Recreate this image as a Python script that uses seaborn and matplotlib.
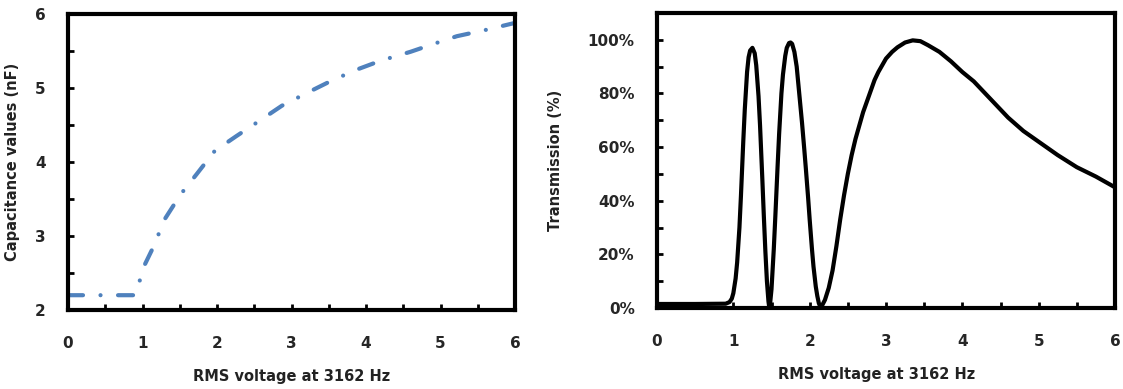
import numpy as np
import pandas as pd
import matplotlib
matplotlib.use("Agg")
import matplotlib.pyplot as plt
from matplotlib.ticker import MultipleLocator, PercentFormatter
import seaborn as sns

# ---- data ----
cap_voltage = [0.0, 0.3, 0.6, 0.9, 0.935, 1.0, 1.14, 1.30, 1.51, 1.73, 1.97, 2.26, 2.59,
               2.87, 3.24, 3.54, 3.88, 4.20, 4.60, 4.92, 5.22, 5.63, 6.0]
cap_values = [2.2, 2.2, 2.2, 2.2, 2.28, 2.55, 2.84, 3.23, 3.56, 3.84, 4.15, 4.35, 4.57,
              4.76, 4.95, 5.10, 5.25, 5.37, 5.49, 5.60, 5.70, 5.79, 5.88]

tr_voltage = [0.0, 0.5, 0.9, 0.95, 0.98, 1.0, 1.03, 1.05, 1.08, 1.1, 1.13, 1.15, 1.18,
              1.2, 1.22, 1.25, 1.28, 1.3, 1.33, 1.35, 1.38, 1.4, 1.42, 1.44, 1.46, 1.47,
              1.48, 1.5, 1.53, 1.55, 1.58, 1.6, 1.63, 1.65, 1.68, 1.7, 1.73, 1.75, 1.77,
              1.8, 1.83, 1.85, 1.88, 1.9, 1.93, 1.95, 1.98, 2.0, 2.03, 2.05, 2.08, 2.1,
              2.12, 2.14, 2.16, 2.2, 2.25, 2.3, 2.35, 2.4, 2.45, 2.5, 2.55, 2.6, 2.65,
              2.7, 2.75, 2.8, 2.85, 2.9, 2.95, 3.0, 3.08, 3.15, 3.25, 3.35, 3.45, 3.55,
              3.7, 3.85, 4.0, 4.15, 4.3, 4.45, 4.6, 4.8, 5.0, 5.25, 5.5, 5.75, 6.0]
tr_values = [0.015, 0.015, 0.016, 0.022, 0.035, 0.055, 0.11, 0.17, 0.30, 0.42, 0.62,
             0.74, 0.88, 0.935, 0.96, 0.97, 0.95, 0.905, 0.79, 0.68, 0.48, 0.34, 0.21,
             0.10, 0.025, 0.004, 0.012, 0.07, 0.22, 0.34, 0.53, 0.65, 0.80, 0.87, 0.94,
             0.97, 0.988, 0.99, 0.985, 0.955, 0.90, 0.84, 0.75, 0.69, 0.59, 0.52, 0.41,
             0.33, 0.22, 0.155, 0.08, 0.045, 0.018, 0.004, 0.008, 0.03, 0.075, 0.14,
             0.23, 0.33, 0.42, 0.50, 0.57, 0.63, 0.68, 0.73, 0.77, 0.81, 0.85, 0.88,
             0.905, 0.93, 0.955, 0.972, 0.99, 0.998, 0.995, 0.98, 0.955, 0.92, 0.88,
             0.845, 0.80, 0.755, 0.71, 0.66, 0.62, 0.57, 0.525, 0.49, 0.45]

x_label = "RMS voltage at 3162 Hz"
left_ylabel = "Capacitance values (nF)"
right_ylabel = "Transmission (%)"

sns.set_style("white")
plt.rcParams["font.family"] = ["DejaVu Sans"]
plt.rcParams["font.weight"] = "bold"

fig = plt.figure(figsize=(11.23, 3.89), dpi=100)
ax1 = fig.add_axes([68 / 1123, 79 / 389, 447 / 1123, 296 / 389])
ax2 = fig.add_axes([657 / 1123, 81 / 389, 458 / 1123, 295 / 389])

df_cap = pd.DataFrame({"v": cap_voltage, "c": cap_values})
df_tr = pd.DataFrame({"v": tr_voltage, "t": tr_values})

sns.lineplot(data=df_cap, x="v", y="c", ax=ax1, color="#4F81BD", lw=3,
             estimator=None, sort=False)
ax1.lines[0].set_linestyle((0, (3.6, 4.2, 0.01, 4.2)))
ax1.lines[0].set_dash_capstyle("round")

sns.lineplot(data=df_tr, x="v", y="t", ax=ax2, color="black", lw=3,
             estimator=None, sort=False)
ax2.lines[0].set_solid_joinstyle("round")

ax1.set_xlim(0, 6)
ax1.set_ylim(2, 6)
ax1.xaxis.set_major_locator(MultipleLocator(1))
ax1.xaxis.set_minor_locator(MultipleLocator(0.5))
ax1.yaxis.set_major_locator(MultipleLocator(1))
ax1.yaxis.set_minor_locator(MultipleLocator(0.5))

ax2.set_xlim(0, 6)
ax2.set_ylim(0, 1.1)
ax2.xaxis.set_major_locator(MultipleLocator(1))
ax2.xaxis.set_minor_locator(MultipleLocator(0.5))
ax2.yaxis.set_major_locator(MultipleLocator(0.2))
ax2.yaxis.set_minor_locator(MultipleLocator(0.1))
ax2.yaxis.set_major_formatter(PercentFormatter(1.0, decimals=0))

for ax in (ax1, ax2):
    for s in ax.spines.values():
        s.set_visible(True)
        s.set_linewidth(3)
        s.set_color("black")
    ax.tick_params(which="both", direction="in", length=4, width=2, color="black",
                   top=False, right=False, bottom=True, left=True)
    ax.tick_params(axis="x", which="major", pad=19, labelsize=11)
    ax.tick_params(axis="y", which="major", pad=16, labelsize=11)
    for lab in ax.get_xticklabels() + ax.get_yticklabels():
        lab.set_fontweight("bold")
    ax.set_xlabel(x_label, fontsize=10.5, fontweight="bold", color="#222222")

ax1.set_ylabel(left_ylabel, fontsize=10.5, fontweight="bold", color="#222222")
ax2.set_ylabel(right_ylabel, fontsize=10.5, fontweight="bold", color="#222222")
ax1.xaxis.set_label_coords(0.5, -0.2)
ax2.xaxis.set_label_coords(0.48, -0.2)
ax1.yaxis.set_label_coords(-0.107, 0.5)
ax2.yaxis.set_label_coords(-0.205, 0.5)

fig.savefig("out.png", dpi=100)
